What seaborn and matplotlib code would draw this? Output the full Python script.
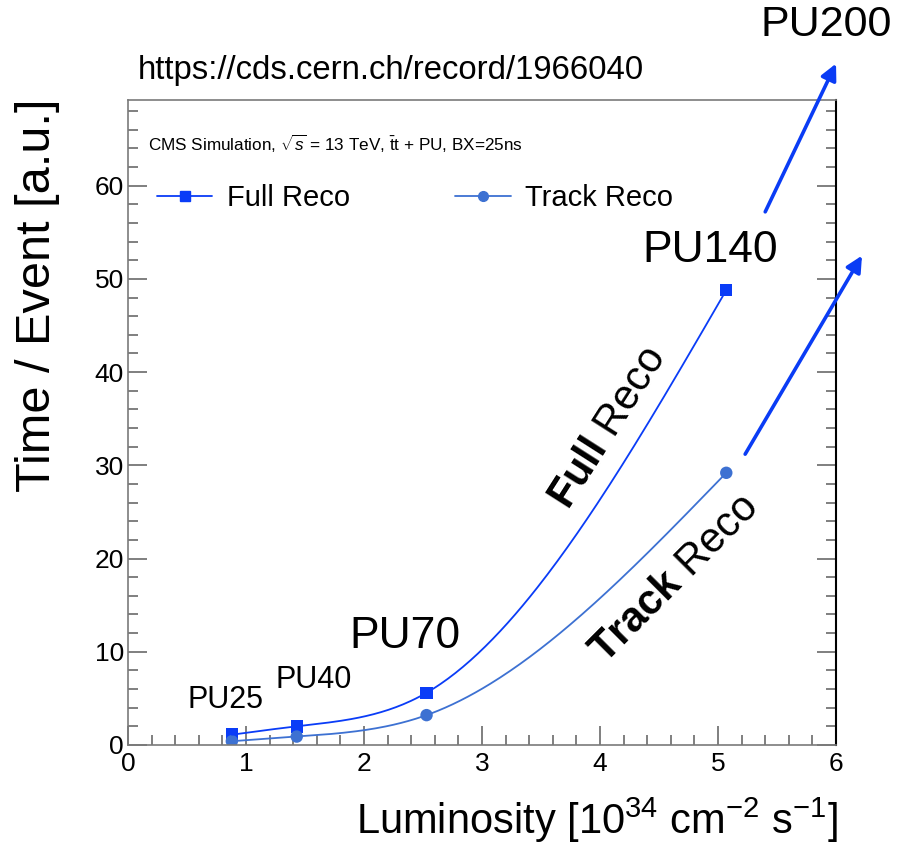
import numpy as np
import pandas as pd
import matplotlib
matplotlib.use("Agg")
import matplotlib.pyplot as plt
from matplotlib.lines import Line2D
import seaborn as sns

# Reconstruction time per event versus instantaneous luminosity
lumi = [0.88, 1.43, 2.53, 5.07]
full_reco = [1.1, 2.0, 5.6, 48.8]
track_reco = [0.4, 0.9, 3.2, 29.2]
pileup_labels = ["PU25", "PU40", "PU70", "PU140"]
extrapolated_label = "PU200"

FULL_COLOR = "#0a3cf7"
TRACK_COLOR = "#3d71d2"
ARROW_COLOR = "#0a3cf5"


def natural_spline(x, y, n=200):
    """Smooth curve through the points (natural cubic spline)."""
    x = np.asarray(x, float)
    y = np.asarray(y, float)
    k = len(x)
    h = np.diff(x)
    A = np.zeros((k, k))
    b = np.zeros(k)
    A[0, 0] = A[-1, -1] = 1.0
    for i in range(1, k - 1):
        A[i, i - 1] = h[i - 1]
        A[i, i] = 2 * (h[i - 1] + h[i])
        A[i, i + 1] = h[i]
        b[i] = 6 * ((y[i + 1] - y[i]) / h[i] - (y[i] - y[i - 1]) / h[i - 1])
    m = np.linalg.solve(A, b)
    xs = np.linspace(x[0], x[-1], n)
    idx = np.clip(np.searchsorted(x, xs) - 1, 0, k - 2)
    x0, x1 = x[idx], x[idx + 1]
    y0, y1 = y[idx], y[idx + 1]
    m0, m1 = m[idx], m[idx + 1]
    hh = x1 - x0
    t1 = x1 - xs
    t0 = xs - x0
    ys = (m0 * t1 ** 3 + m1 * t0 ** 3) / (6 * hh) \
        + (y0 / hh - m0 * hh / 6) * t1 + (y1 / hh - m1 * hh / 6) * t0
    return xs, ys


sns.set_style("white")
plt.rcParams["font.family"] = ["Liberation Sans", "DejaVu Sans"]
plt.rcParams["text.color"] = "black"
plt.rcParams["mathtext.fontset"] = "custom"
plt.rcParams["mathtext.rm"] = "Liberation Sans"
plt.rcParams["mathtext.it"] = "Liberation Sans:italic"
plt.rcParams["mathtext.bf"] = "Liberation Sans:bold"

fig = plt.figure(figsize=(9.11, 8.43), dpi=100)
ax = fig.add_axes([0.1405, 0.1163, 0.7772, 0.7651])

xs_f, ys_f = natural_spline(lumi, full_reco)
xs_t, ys_t = natural_spline(lumi, track_reco)
curves = pd.DataFrame({
    "lumi": np.concatenate([xs_f, xs_t]),
    "time": np.concatenate([ys_f, ys_t]),
    "reco": ["Full Reco"] * len(xs_f) + ["Track Reco"] * len(xs_t),
})
points = pd.DataFrame({
    "lumi": lumi + lumi,
    "time": full_reco + track_reco,
    "reco": ["Full Reco"] * len(lumi) + ["Track Reco"] * len(lumi),
})
palette = {"Full Reco": FULL_COLOR, "Track Reco": TRACK_COLOR}

sns.lineplot(data=curves, x="lumi", y="time", hue="reco", palette=palette,
             linewidth=1.3, legend=False, ax=ax, sort=False, estimator=None)
sns.scatterplot(data=points, x="lumi", y="time", hue="reco", style="reco",
                markers={"Full Reco": "s", "Track Reco": "o"},
                palette=palette, s=80, linewidth=0, legend=False, ax=ax)

ax.set_xlim(0, 6)
ax.set_ylim(0, 69.2)
ax.set_xlabel("")
ax.set_ylabel("")

# Frame and ticks
for side in ["left", "top", "bottom"]:
    ax.spines[side].set_color("#7a7a7a")
    ax.spines[side].set_linewidth(1.2)
ax.spines["right"].set_color("black")
ax.spines["right"].set_linewidth(1.5)
ax.set_xticks(range(0, 7))
ax.set_xticks(np.arange(0, 6.01, 0.2), minor=True)
ax.set_yticks(range(0, 61, 10))
ax.set_yticks(range(0, 69, 2), minor=True)
ax.tick_params(which="both", direction="in", color="#6a6a6a", width=1.2,
               left=True, right=True, bottom=True, top=False,
               labelsize=19, labelcolor="black")
ax.tick_params(which="major", length=14)
ax.tick_params(which="minor", length=7)
ax.tick_params(axis="x", which="major", pad=5)
ax.tick_params(axis="y", which="major", pad=3)

# Trend arrows toward higher pileup
arrow_kw = dict(arrowstyle="-|>", lw=2.6, color=ARROW_COLOR, mutation_scale=24,
                shrinkA=0, shrinkB=0)
ax.annotate("", xy=(6.0, 73.1), xytext=(5.40, 57.2), arrowprops=arrow_kw,
            annotation_clip=False)
ax.annotate("", xy=(6.22, 52.5), xytext=(5.23, 31.2), arrowprops=arrow_kw,
            annotation_clip=False)

# Pileup labels
label_pos = [(0.83, 4.8, 22), (1.57, 7.0, 22), (2.35, 11.6, 32), (4.93, 53.1, 32)]
for text, (lx, ly, fs) in zip(pileup_labels, label_pos):
    ax.text(lx, ly, text, fontsize=fs, ha="center", va="center")
ax.text(5.92, 77.2, extrapolated_label, fontsize=31, ha="center", va="center",
        clip_on=False)

# Curve captions along the lines
ax.text(4.07, 34.0, r"$\mathbf{Full}$ Reco", fontsize=30, rotation=57.5,
        ha="center", va="center", rotation_mode="anchor")
ax.text(4.63, 17.8, r"$\mathbf{Track}$ Reco", fontsize=30, rotation=45,
        ha="center", va="center", rotation_mode="anchor")

# Header inside the frame
ax.text(0.17, 64.5,
        r"CMS Simulation, $\sqrt{s}$ = 13 TeV, $\bar{\mathrm{t}}$t + PU, BX=25ns",
        fontsize=12.3, ha="left", va="center")

# Legend
handles = [
    Line2D([], [], color=FULL_COLOR, lw=1.3, marker="s", markersize=7),
    Line2D([], [], color=TRACK_COLOR, lw=1.3, marker="o", markersize=7),
]
ax.legend(handles, ["Full Reco", "Track Reco"], ncol=2, frameon=False,
          fontsize=21, loc="center left", bbox_to_anchor=(0.041, 0.848),
          borderaxespad=0, borderpad=0,
          handlelength=1.9, columnspacing=3.6, handletextpad=0.5)

# Axis titles
fig.text(38 / 911, 1 - 295 / 843, "Time / Event [a.u.]", rotation=90,
         fontsize=35, ha="center", va="center")
fig.text(838 / 911, 1 - 820 / 843,
         r"Luminosity [10$^{34}$ cm$^{-2}$ s$^{-1}$]",
         fontsize=30, ha="right", va="center")

fig.text(138 / 911, 1 - 70 / 843, "https://cds.cern.ch/record/1966040",
         fontsize=23.7, ha="left", va="center")

fig.savefig("out.png", dpi=100)
